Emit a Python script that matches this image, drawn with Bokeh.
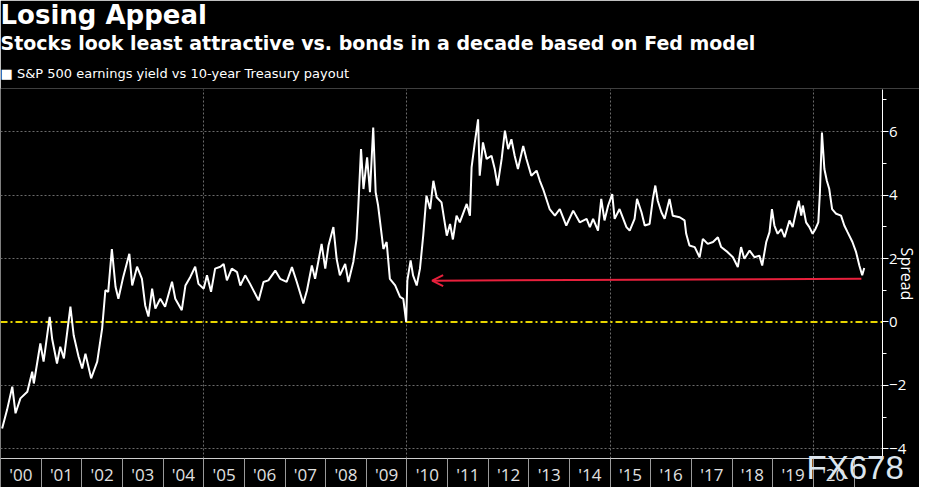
from bokeh.plotting import figure
from bokeh.models import (FixedTicker, Arrow, OpenHead, Label, Title, Range1d)
from bokeh.embed import file_html
from bokeh.resources import INLINE

# ---------------- data ----------------
years = [
    2000.04, 2000.16, 2000.29, 2000.37, 2000.49, 2000.66, 2000.78, 2000.82, 2000.98,
    2001.06, 2001.21, 2001.27, 2001.39, 2001.47, 2001.56, 2001.72, 2001.80, 2001.92,
    2002.01, 2002.09, 2002.23, 2002.38, 2002.50, 2002.58, 2002.65, 2002.74, 2002.83, 2002.90,
    2003.02, 2003.17, 2003.24, 2003.36, 2003.48, 2003.56, 2003.64, 2003.73, 2003.81, 2003.93,
    2004.05, 2004.22, 2004.30, 2004.46, 2004.55, 2004.67, 2004.79, 2004.87,
    2005.00, 2005.08, 2005.18, 2005.28, 2005.41, 2005.49, 2005.57, 2005.69, 2005.82, 2005.90,
    2006.02, 2006.14, 2006.35, 2006.47, 2006.59, 2006.76, 2006.88,
    2007.04, 2007.17, 2007.29, 2007.45, 2007.54, 2007.66, 2007.74, 2007.90, 2007.99,
    2008.07, 2008.19, 2008.27, 2008.35, 2008.48, 2008.56, 2008.68, 2008.76, 2008.80, 2008.87, 2008.93,
    2009.02, 2009.09, 2009.17, 2009.23, 2009.29, 2009.42, 2009.50, 2009.58, 2009.71, 2009.83, 2009.91, 2009.98,
    2010.01, 2010.09, 2010.15, 2010.24, 2010.32, 2010.40, 2010.48, 2010.57, 2010.65, 2010.73, 2010.85, 2010.98,
    2011.06, 2011.13, 2011.22, 2011.30, 2011.47, 2011.55, 2011.59, 2011.67, 2011.75, 2011.79, 2011.87, 2011.96,
    2012.08, 2012.16, 2012.23, 2012.33, 2012.41, 2012.49, 2012.57, 2012.65, 2012.73, 2012.86, 2012.94,
    2013.06, 2013.19, 2013.27, 2013.35, 2013.51, 2013.64, 2013.76, 2013.92,
    2014.09, 2014.25, 2014.42, 2014.50, 2014.58, 2014.70, 2014.78, 2014.86, 2014.95,
    2015.05, 2015.11, 2015.23, 2015.40, 2015.48, 2015.60, 2015.66, 2015.77, 2015.85, 2015.97,
    2016.05, 2016.11, 2016.17, 2016.26, 2016.34, 2016.46, 2016.54, 2016.71, 2016.83, 2016.87, 2016.95,
    2017.08, 2017.20, 2017.28, 2017.40, 2017.53, 2017.65, 2017.73, 2017.89,
    2018.02, 2018.14, 2018.22, 2018.30, 2018.43, 2018.55, 2018.67, 2018.74, 2018.84, 2018.92, 2018.98,
    2019.04, 2019.12, 2019.21, 2019.29, 2019.41, 2019.49, 2019.57, 2019.64, 2019.70, 2019.74, 2019.82, 2019.90, 2019.98,
    2020.05, 2020.12, 2020.16, 2020.21, 2020.27, 2020.33, 2020.39, 2020.46, 2020.56, 2020.68, 2020.76, 2020.84, 2020.96,
    2021.05, 2021.13, 2021.20, 2021.25,
]
spread = [
    -3.36, -2.78, -2.04, -2.88, -2.41, -2.20, -1.57, -1.94, -0.68,
    -1.25, 0.16, -0.53, -1.31, -0.78, -1.15, 0.48, -0.42, -1.09,
    -1.47, -1.00, -1.78, -1.25, -0.21, 1.00, 0.95, 2.30, 1.11, 0.73,
    1.42, 2.15, 1.15, 1.74, 1.36, 0.52, 0.17, 1.05, 0.42, 0.73,
    0.48, 1.27, 0.73, 0.37, 1.15, 1.42, 1.74, 1.20,
    1.05, 1.47, 0.95, 1.68, 1.74, 1.83, 1.31, 1.68, 1.57, 1.15,
    1.47, 1.20, 0.68, 1.26, 1.31, 1.62, 1.36,
    1.26, 1.73, 1.26, 0.58, 0.99, 1.78, 1.36, 2.46, 1.68,
    2.41, 2.99, 1.99, 1.47, 1.83, 1.26, 1.89, 2.62, 3.56, 5.45, 4.19,
    5.19, 4.09, 6.13, 4.09, 3.67, 2.30, 2.52, 1.36, 1.15, 0.79, 0.73, 0.00,
    1.31, 1.94, 1.47, 1.15, 1.68, 2.72, 3.98, 3.56, 4.45, 3.93, 3.77, 2.72,
    3.09, 2.60, 3.35, 3.14, 3.72, 3.35, 4.87, 5.66, 6.39, 4.61, 5.66, 5.14,
    5.24, 4.82, 4.30, 5.14, 6.03, 5.45, 5.76, 5.24, 4.82, 5.55, 5.14,
    4.61, 4.77, 4.45, 4.19, 3.56, 3.35, 3.56, 3.04,
    3.51, 3.14, 3.25, 2.99, 3.25, 2.88, 3.88, 3.20, 3.67,
    4.03, 3.25, 3.56, 2.99, 2.88, 3.25, 3.88, 3.46, 3.04, 3.09,
    3.88, 4.30, 3.82, 3.46, 3.25, 3.88, 3.35, 3.30, 3.20, 2.78, 2.41,
    2.36, 2.04, 2.62, 2.46, 2.52, 2.67, 2.36, 2.20,
    2.04, 1.73, 2.36, 1.99, 2.25, 2.04, 2.09, 1.78, 2.52, 2.83, 3.56,
    3.04, 2.78, 2.93, 2.67, 3.20, 2.99, 3.46, 3.82, 3.35, 3.67, 3.14, 2.99, 2.78,
    2.93, 3.14, 4.09, 5.97, 4.82, 4.45, 4.19, 3.56, 3.41, 3.35, 3.04, 2.83, 2.52,
    2.20, 1.78, 1.47, 1.70,
]

year_label_pos = [2000.5 + i for i in range(21)]
year_labels = ["'00", "'01", "'02", "'03", "'04", "'05", "'06", "'07", "'08", "'09", "'10",
               "'11", "'12", "'13", "'14", "'15", "'16", "'17", "'18", "'19", "'20"]
year_bounds = [2000 + i for i in range(22)]
grid_years = [2005, 2010, 2015, 2020]
y_ticks = [-4, -2, 0, 2, 4, 6]
y_minor = [-3, -1, 1, 3, 5, 7]
y_grid = [-4, -2, 2, 4, 6]

# plot-area limits (where the two axes sit)
x_lo, x_hi = 2000.0, 2021.69
y_lo, y_hi = -4.3, 7.33

zero_x = [x_lo, x_hi]
zero_y = [0, 0]

arrow_from = (2021.18, 1.36)
arrow_to = (2010.62, 1.30)

title_text = "Losing Appeal"
subtitle_text = "Stocks look least attractive vs. bonds in a decade based on Fed model"
legend_text = "\u25A0 S&P 500 earnings yield vs 10-year Treasury payout"
watermark_text = "FX678"

# ---------------- figure ----------------
p = figure(width=919, height=487, output_backend="svg", toolbar_location=None,
           x_range=Range1d(2000.0, 2022.61), y_range=Range1d(-5.22, 7.36),
           y_axis_location="right",
           background_fill_color="black", border_fill_color="black",
           min_border_left=0, min_border_right=0, min_border_bottom=0, min_border_top=0)
p.outline_line_color = None

# titles (added bottom-most first)
p.add_layout(Title(text=legend_text, align="left", text_color="white",
                   text_font="DejaVu Sans", text_font_size="13px",
                   text_font_style="normal", standoff=15), "above")
p.add_layout(Title(text=subtitle_text, align="left", text_color="white",
                   text_font="DejaVu Sans", text_font_size="19px",
                   text_font_style="bold", standoff=6), "above")
p.add_layout(Title(text=title_text, align="left", text_color="white",
                   text_font="DejaVu Sans", text_font_size="26px",
                   text_font_style="bold", standoff=-6), "above")

# x axis (fixed at the bottom of the plotting area)
xa = p.xaxis[0]
xa.fixed_location = y_lo
xa.bounds = (x_lo, x_hi)
xa.ticker = FixedTicker(ticks=year_label_pos, minor_ticks=year_bounds)
xa.major_label_overrides = {pos: lab for pos, lab in zip(year_label_pos, year_labels)}
xa.major_tick_line_color = None
xa.major_tick_out = 0
xa.major_tick_in = 0
xa.minor_tick_out = 36
xa.minor_tick_in = 0
xa.minor_tick_line_color = "#9a9a9a"
xa.axis_line_color = "#cfcfcf"
xa.major_label_standoff = -31
xa.major_label_text_color = "#e0e0e0"
xa.major_label_text_font = "Open Sans"
xa.major_label_text_font_size = "17px"

# y axis (fixed at the right edge of the plotting area)
ya = p.yaxis[0]
ya.fixed_location = x_hi
ya.bounds = (y_lo, y_hi)
ya.ticker = FixedTicker(ticks=y_ticks, minor_ticks=y_minor)
ya.axis_line_color = "white"
ya.major_tick_line_color = "white"
ya.minor_tick_line_color = "white"
ya.major_tick_out = 6
ya.major_tick_in = 0
ya.minor_tick_out = 4
ya.minor_tick_in = 0
ya.major_label_standoff = 1
ya.major_label_text_color = "white"
ya.major_label_text_font = "Open Sans"
ya.major_label_text_font_size = "15px"
ya.axis_label = "Spread"
ya.axis_label_text_color = "white"
ya.axis_label_text_font = "Open Sans"
ya.axis_label_text_font_size = "16px"
ya.axis_label_text_font_style = "normal"
ya.axis_label_standoff = -14

# grids
p.xgrid.ticker = FixedTicker(ticks=grid_years)
p.ygrid.ticker = FixedTicker(ticks=y_grid)
for g, cb in ((p.xgrid[0], (y_lo, y_hi)), (p.ygrid[0], (x_lo, x_hi))):
    g.grid_line_color = "#6a6a6a"
    g.grid_line_dash = "2 2"
    g.grid_line_width = 1
    if "cross_bounds" in g.properties():
        g.cross_bounds = cb

# zero line
p.line(zero_x, zero_y, line_color="#e6d400", line_dash="7 3 2 3", line_width=2)

# series
p.line(years, spread, line_color="white", line_width=2)

# red arrow
p.add_layout(Arrow(end=OpenHead(size=11, line_color="#e8203c", line_width=2),
                   x_start=arrow_from[0], y_start=arrow_from[1],
                   x_end=arrow_to[0], y_end=arrow_to[1],
                   line_color="#e8203c", line_width=2))

# watermark
p.add_layout(Label(x=2019.83, y=-4.59, text=watermark_text, text_color="#dde6ee",
                   text_font="Liberation Sans", text_font_size="33px",
                   text_baseline="alphabetic"))

open("out.html", "w").write(file_html(p, INLINE))
